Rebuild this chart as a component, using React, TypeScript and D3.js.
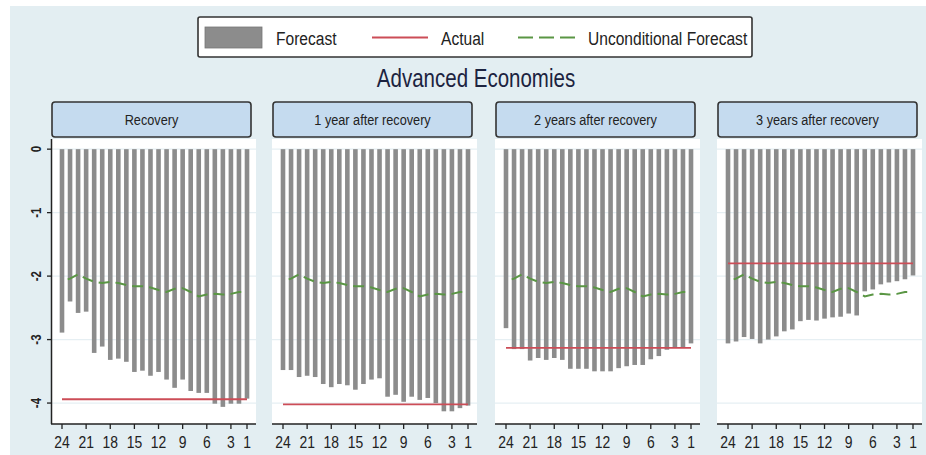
import React from 'react';
import * as d3 from 'd3';

// horizon (periods before the end), plotted from 24 down to 1
const periods = [24, 23, 22, 21, 20, 19, 18, 17, 16, 15, 14, 13, 12, 11, 10, 9, 8, 7, 6, 5, 4, 3, 2, 1];
const xTickValues = [24, 21, 18, 15, 12, 9, 6, 3, 1];
const yTickValues = [0, -1, -2, -3, -4];

const panelTitles = ['Recovery', '1 year after recovery', '2 years after recovery', '3 years after recovery'];

const forecastRecovery = [-2.89, -2.40, -2.58, -2.56, -3.21, -3.11, -3.32, -3.30, -3.35, -3.51, -3.49, -3.57, -3.51, -3.63, -3.76, -3.63, -3.81, -3.84, -3.84, -4.01, -4.06, -4.01, -4.01, -3.93];
const forecastYear1 = [-3.48, -3.48, -3.59, -3.57, -3.59, -3.70, -3.75, -3.70, -3.72, -3.79, -3.70, -3.63, -3.61, -3.90, -3.87, -3.98, -3.90, -3.95, -3.92, -4.00, -4.13, -4.13, -4.08, -4.04];
const forecastYear2 = [-2.82, -3.15, -3.15, -3.33, -3.29, -3.32, -3.29, -3.32, -3.46, -3.46, -3.46, -3.50, -3.50, -3.50, -3.45, -3.42, -3.40, -3.40, -3.31, -3.26, -3.16, -3.12, -3.12, -3.06];
const forecastYear3 = [-3.06, -3.03, -2.96, -2.99, -3.06, -3.00, -2.95, -2.87, -2.84, -2.71, -2.69, -2.70, -2.67, -2.65, -2.64, -2.59, -2.62, -2.24, -2.21, -2.13, -2.10, -2.08, -2.05, -1.99];

const actualLevels = [-3.94, -4.02, -3.13, -1.80];

const unconditional = [-2.08, -2.04, -1.97, -2.04, -2.09, -2.11, -2.09, -2.11, -2.14, -2.16, -2.16, -2.18, -2.22, -2.25, -2.20, -2.19, -2.25, -2.32, -2.29, -2.28, -2.29, -2.28, -2.25, -2.25];

const forecasts = [forecastRecovery, forecastYear1, forecastYear2, forecastYear3];

const W = 926;
const H = 455;
const FONT = "'Liberation Sans', Arial, sans-serif";
const NARROW = 0.82; // no narrow face installed, squeeze the regular one
const BG = '#e3eef2';
const BAR = '#8c8c8c';
const RED = '#cc4d57';
const GREEN = '#5a9644';
const INK = '#222';

const panelLefts = [51, 272, 495, 717];
const plotW = 205;
const plotTop = 139;
const plotBottom = 424;

const y = d3.scaleLinear().domain([-4.33, 0.16]).range([plotBottom, plotTop]);

type NTextProps = {
  x: number; y: number; size: number; anchor?: string; rotate?: number;
  weight?: string; fill?: string; children: React.ReactNode;
};

// condensed text, like Stata's Arial Narrow
const NText = ({ x, y, size, anchor = 'start', rotate = 0, weight = 'normal', fill = INK, children }: NTextProps) => (
  <text transform={`translate(${x},${y}) rotate(${rotate}) scale(${NARROW},1)`} textAnchor={anchor}
    fontFamily={FONT} fontSize={size} fontWeight={weight} fill={fill}>
    {children}
  </text>
);

const Panel = ({ idx }: { idx: number }) => {
  const left = panelLefts[idx];
  const x = d3.scaleLinear().domain([24, 1]).range([left + 11, left + 196]);
  const values = forecasts[idx];
  const line = d3.line<number>()
    .x((_, i) => x(periods[i]))
    .y(d => y(d));
  const barW = 4.6;

  return (
    <g>
      {/* header strip */}
      <rect x={left + 1} y={102} width={199} height={35} rx={3} fill="#c5dbef" stroke="#333" strokeWidth={1.6} />
      <NText x={left + 100.5} y={125} size={15.5} anchor="middle">{panelTitles[idx]}</NText>

      {/* plot region */}
      <rect x={left} y={plotTop} width={plotW} height={plotBottom - plotTop} fill="#fff" />
      {yTickValues.map(t => (
        <line key={t} x1={left} x2={left + plotW} y1={y(t)} y2={y(t)} stroke="#e6eff3" strokeWidth={1.2} />
      ))}

      {values.map((v, i) => (
        <rect key={i} x={x(periods[i]) - barW / 2} y={y(0)} width={barW} height={y(v) - y(0)} fill={BAR} />
      ))}

      <path d={line(unconditional) || ''} fill="none" stroke={GREEN} strokeWidth={2} strokeDasharray="11,6" strokeDashoffset={11} />
      <line x1={x(24)} x2={x(1)} y1={y(actualLevels[idx])} y2={y(actualLevels[idx])} stroke={RED} strokeWidth={1.8} />

      {/* x axis */}
      <line x1={left} x2={left + plotW} y1={plotBottom} y2={plotBottom} stroke={INK} strokeWidth={1.5} />
      {xTickValues.map(t => (
        <g key={t}>
          <line x1={x(t)} x2={x(t)} y1={plotBottom} y2={plotBottom + 5} stroke={INK} strokeWidth={1.3} />
          <NText x={x(t)} y={448} size={17} anchor="middle">{t}</NText>
        </g>
      ))}

      {/* y axis only on the first panel */}
      {idx === 0 && (
        <g>
          <line x1={left + 0.5} x2={left + 0.5} y1={plotTop} y2={plotBottom} stroke={INK} strokeWidth={1.5} />
          {yTickValues.map(t => (
            <g key={t}>
              <line x1={left - 4} x2={left} y1={y(t)} y2={y(t)} stroke={INK} strokeWidth={1.3} />
              <NText x={41} y={y(t)} rotate={-90} size={14} weight="bold" anchor="middle">
                {t === 0 ? '0' : `-${Math.abs(t)}`}
              </NText>
            </g>
          ))}
        </g>
      )}
    </g>
  );
};

export default function App() {
  return (
    <svg width={W} height={H} viewBox={`0 0 ${W} ${H}`} style={{ position: 'absolute', left: 0, top: 0 }}>
      <rect x={0} y={0} width={W} height={H} fill="#fff" />
      <rect x={10} y={6} width={W - 10} height={H - 6} fill={BG} />

      {/* legend */}
      <rect x={198} y={17} width={554} height={40} rx={2} fill="#fff" stroke="#333" strokeWidth={1.6} />
      <rect x={205} y={27} width={57} height={21} fill={BAR} stroke="#777" strokeWidth={0.8} />
      <NText x={276} y={45} size={19}>Forecast</NText>
      <line x1={372} x2={428} y1={37.5} y2={37.5} stroke={RED} strokeWidth={1.8} />
      <NText x={441} y={45} size={19}>Actual</NText>
      <line x1={518} x2={576} y1={37.5} y2={37.5} stroke={GREEN} strokeWidth={2} strokeDasharray="15,6" />
      <NText x={588} y={45} size={19}>Unconditional Forecast</NText>

      <NText x={476} y={87} size={25} anchor="middle" fill="#1c2340">Advanced Economies</NText>

      {panelTitles.map((_, i) => <Panel key={i} idx={i} />)}
    </svg>
  );
}
